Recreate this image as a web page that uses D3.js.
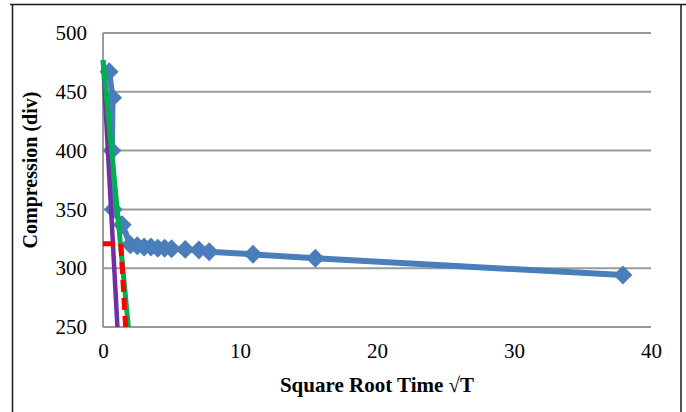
<!DOCTYPE html>
<html>
<head>
<meta charset="utf-8">
<script src="https://cdn.jsdelivr.net/npm/d3@7"></script>
<style>
  html, body { margin: 0; padding: 0; background: #ffffff; }
  svg { display: block; }
  text { font-family: "Liberation Serif", "Times New Roman", serif; fill: #000; }
</style>
</head>
<body>
<script>
// Compression readings against square root of elapsed time
const sqrtTime = [0.45, 0.7, 0.65, 0.75, 1.4, 2.0, 2.5, 3.0, 3.5, 4.0, 4.5, 5.0, 6.0, 7.0, 7.75, 10.95, 15.5, 37.95];
const compression = [467, 445, 400, 350, 337, 320, 319, 318, 318, 317, 317, 316.5, 316, 315.5, 314, 311.8, 308.4, 294.2];

// Initial tangent line and the 1.15-slope construction line
const tangentX = [0, 1.1];
const tangentY = [477, 240];
const constructionX = [0, 1.9];
const constructionY = [477, 244];

// Dashed construction marking the intersection
const markX = [0, 1.3, 1.68];
const markY = [320.8, 320.8, 244];

const xTicks = [0, 10, 20, 30, 40];
const yTicks = [250, 300, 350, 400, 450, 500];

const width = 686, height = 412;
const margin = { left: 103, right: 35, top: 33, bottom: 85 };

const svg = d3.select("body").append("svg")
  .attr("width", width).attr("height", height);

// Outer chart frame
svg.append("line").attr("x1", 10).attr("x2", 686).attr("y1", 4.5).attr("y2", 4.5)
  .attr("stroke", "#1a1a1a").attr("stroke-width", 1.5);
svg.append("line").attr("x1", 12.5).attr("x2", 12.5).attr("y1", 4).attr("y2", 412)
  .attr("stroke", "#1a1a1a").attr("stroke-width", 1.5);
svg.append("line").attr("x1", 681).attr("x2", 681).attr("y1", 4).attr("y2", 412)
  .attr("stroke", "#1a1a1a").attr("stroke-width", 1.5);

const x = d3.scaleLinear().domain([0, 40]).range([margin.left, width - margin.right]);
const y = d3.scaleLinear().domain([250, 500]).range([height - margin.bottom, margin.top]);

// Horizontal gridlines
svg.append("g").selectAll("line").data(yTicks).join("line")
  .attr("x1", x(0)).attr("x2", x(40))
  .attr("y1", d => y(d)).attr("y2", d => y(d))
  .attr("stroke", "#9a9a9a").attr("stroke-width", 2);

// Left axis line
svg.append("line").attr("x1", x(0)).attr("x2", x(0)).attr("y1", y(500)).attr("y2", y(250))
  .attr("stroke", "#9a9a9a").attr("stroke-width", 2);

// Axes (labels only)
const yAxis = svg.append("g").attr("transform", `translate(${x(0)},0)`)
  .call(d3.axisLeft(y).tickValues(yTicks).tickSize(0).tickPadding(16));
yAxis.select(".domain").remove();
yAxis.selectAll("text").attr("font-size", 21).attr("font-family", "Liberation Serif");

const xAxis = svg.append("g").attr("transform", `translate(0,${y(250)})`)
  .call(d3.axisBottom(x).tickValues(xTicks).tickSize(0).tickPadding(16));
xAxis.select(".domain").remove();
xAxis.selectAll("text").attr("font-size", 21).attr("font-family", "Liberation Serif");

// Clip to the plot area
svg.append("clipPath").attr("id", "plotClip").append("rect")
  .attr("x", x(0) - 4).attr("y", y(500) - 4)
  .attr("width", x(40) - x(0) + 8).attr("height", y(250) - y(500) + 4);

const plot = svg.append("g").attr("clip-path", "url(#plotClip)");
const line = d3.line().x(d => x(d[0])).y(d => y(d[1]));

const mainPts = sqrtTime.map((t, i) => [t, compression[i]]);
plot.append("path").datum(mainPts).attr("d", line)
  .attr("fill", "none").attr("stroke", "#4a7ebb").attr("stroke-width", 6)
  .attr("stroke-linejoin", "round");

plot.append("g").selectAll("path").data(mainPts).join("path")
  .attr("d", d3.symbol().type(d3.symbolSquare).size(180))
  .attr("transform", d => `translate(${x(d[0])},${y(d[1])}) rotate(45)`)
  .attr("fill", "#4a7ebb");

plot.append("path").datum(tangentX.map((t, i) => [t, tangentY[i]])).attr("d", line)
  .attr("fill", "none").attr("stroke", "#7030a0").attr("stroke-width", 4.5);

plot.append("path").datum(constructionX.map((t, i) => [t, constructionY[i]])).attr("d", line)
  .attr("fill", "none").attr("stroke", "#00b050").attr("stroke-width", 5);

plot.append("path").datum(markX.map((t, i) => [t, markY[i]])).attr("d", line)
  .attr("fill", "none").attr("stroke", "#ff0000").attr("stroke-width", 5)
  .attr("stroke-dasharray", "12,6");

// Axis titles
svg.append("text")
  .attr("x", (x(0) + x(40)) / 2).attr("y", 392)
  .attr("text-anchor", "middle").attr("font-weight", "bold").attr("font-size", 21)
  .text("Square Root Time √T");

svg.append("text")
  .attr("transform", "translate(37,170) rotate(-90)")
  .attr("text-anchor", "middle").attr("font-weight", "bold").attr("font-size", 20)
  .text("Compression (div)");
</script>
</body>
</html>
